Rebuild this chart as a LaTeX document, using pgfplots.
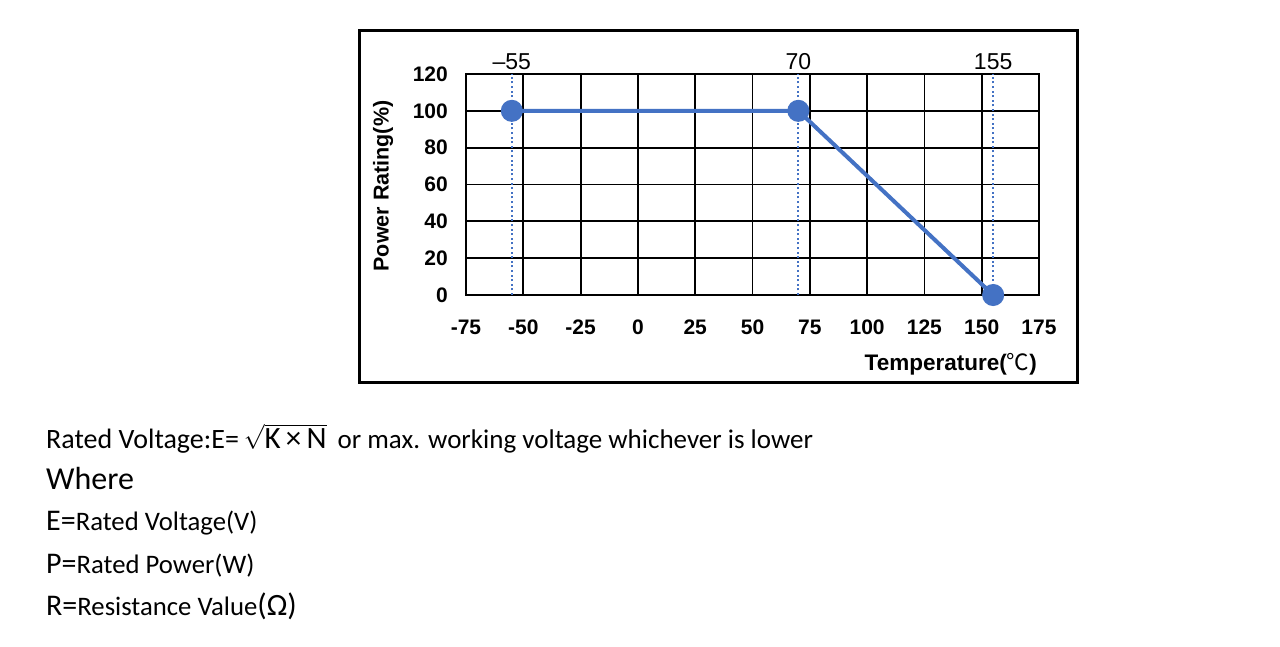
\documentclass[border=0pt]{standalone}
\usepackage{pgfplots}
\pgfplotsset{compat=1.18}
\usepackage{fontspec}
\setmainfont{Liberation Sans}
\newfontfamily\carlito{Carlito}
\newfontfamily\cjk{Noto Sans CJK SC}
\definecolor{ablue}{RGB}{68,114,196}
\begin{document}
\begin{tikzpicture}[x=1pt,y=1pt]
\path[use as bounding box, fill=white] (0,0) rectangle (1280,-646);
\draw[line width=3pt] (359,-30) rectangle (1077,-382);
\begin{axis}[at={(466pt,-295pt)}, anchor=south west, width=573pt, height=221pt, scale only axis,
 xmin=-75,xmax=175,ymin=0,ymax=120,
 xtick={-75,-50,...,175}, xticklabels={-75,-50,-25,0,25,50,75,100,125,150,175},
 ytick={0,20,...,120}, yticklabels={0,20,40,60,80,100,120},
 grid=major, grid style={black,line width=1.8pt}, axis line style={black, line width=1.8pt},
 major tick length=0pt,
 tick label style={font=\fontsize{21}{24}\selectfont\bfseries},
 xticklabel style={anchor=north, inner sep=0pt, yshift=-25pt},
 yticklabel style={anchor=east, inner sep=0pt, xshift=-18pt},
 clip=false]
\addplot[ablue, line width=2.2pt, dash pattern=on 2pt off 2.6pt] coordinates {(-55,0)(-55,120)};
\addplot[ablue, line width=2.2pt, dash pattern=on 2pt off 2.6pt] coordinates {(70,0)(70,120)};
\addplot[ablue, line width=2.2pt, dash pattern=on 2pt off 2.6pt] coordinates {(155,0)(155,120)};
\addplot[ablue, line width=4pt, mark=*, mark size=9pt, mark options={solid, fill=ablue}] coordinates {(-55,100)(70,100)(155,0)};
\node[font=\fontsize{23}{26}\selectfont, anchor=base, inner sep=0pt] at (axis cs:-55,120) [yshift=5pt] {–55};
\node[font=\fontsize{23}{26}\selectfont, anchor=base, inner sep=0pt] at (axis cs:70,120) [yshift=5pt] {70};
\node[font=\fontsize{23}{26}\selectfont, anchor=base, inner sep=0pt] at (axis cs:155,120) [yshift=5pt] {155};
\end{axis}
\node[rotate=90, inner sep=0pt, font=\fontsize{21.5}{24}\selectfont\bfseries] at (383,-186) {Power Rating(\%)};
\node[anchor=base east, inner sep=0pt, font=\fontsize{22.5}{26}\selectfont\bfseries] at (1037,-370) {Temperature({\cjk\mdseries ℃})};
\node[anchor=base west, inner sep=0pt, font=\carlito\fontsize{27}{30}\selectfont] at (46,-448) {{\fontsize{28}{30}\selectfont Rated Voltage:E=}\hspace{5pt}$\sqrt{\hbox{\fontsize{31}{34}\selectfont K\,×\,N}}$\hspace{11pt}or max. working voltage whichever is lower};
\node[anchor=base west, inner sep=0pt, font=\carlito\fontsize{32}{36}\selectfont] at (46,-489) {Where};
\node[anchor=base west, inner sep=0pt, font=\carlito\fontsize{26.7}{30}\selectfont] at (46,-530) {{\fontsize{30}{34}\selectfont E=}Rated Voltage(V)};
\node[anchor=base west, inner sep=0pt, font=\carlito\fontsize{26.7}{30}\selectfont] at (46,-573) {{\fontsize{30}{34}\selectfont P=}Rated Power(W)};
\node[anchor=base west, inner sep=0pt, font=\carlito\fontsize{26.7}{30}\selectfont] at (46,-615) {{\fontsize{30}{34}\selectfont R=}Resistance Value{\fontsize{31}{34}\selectfont(Ω)}};
\end{tikzpicture}
\end{document}
